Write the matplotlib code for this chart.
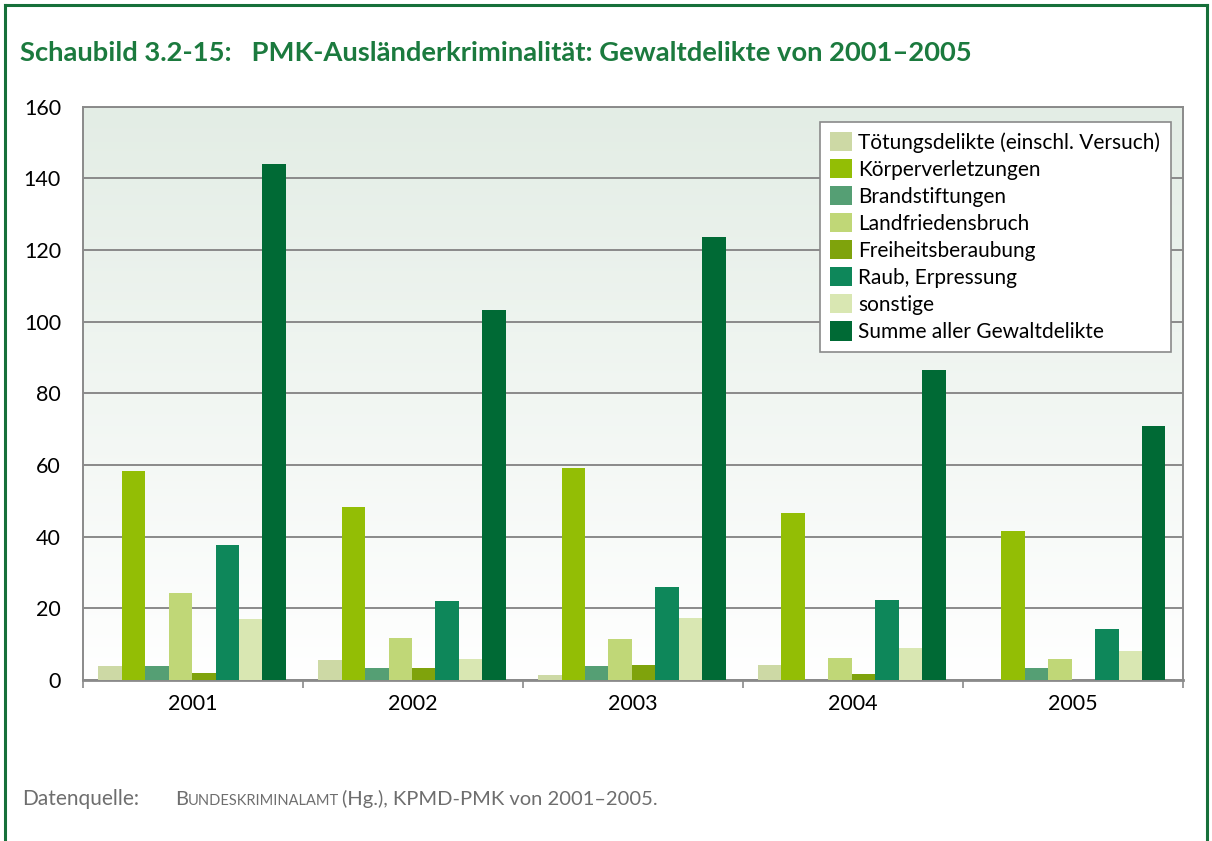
"""PMK-Ausländerkriminalität: Gewaltdelikte 2001-2005 (Schaubild 3.2-15)."""
import matplotlib
matplotlib.use("Agg")
import matplotlib.pyplot as plt
import numpy as np

# Data
YEARS = ["2001", "2002", "2003", "2004", "2005"]
TOETUNG = [3.9, 5.6, 1.4, 4.2, 0.0]
KOERPER = [58.4, 48.3, 59.2, 46.6, 41.6]
BRAND = [3.9, 3.4, 3.9, 0.0, 3.4]
LANDFRIEDEN = [24.3, 11.7, 11.5, 6.1, 5.9]
FREIHEIT = [2.0, 3.4, 4.2, 1.7, 0.0]
RAUB = [37.7, 22.1, 26.0, 22.3, 14.2]
SONSTIGE = [17.0, 5.9, 17.3, 8.9, 8.1]
SUMME = [143.9, 103.4, 123.7, 86.6, 70.9]

SERIES_LABELS = [
    "Tötungsdelikte (einschl. Versuch)",
    "Körperverletzungen",
    "Brandstiftungen",
    "Landfriedensbruch",
    "Freiheitsberaubung",
    "Raub, Erpressung",
    "sonstige",
    "Summe aller Gewaltdelikte",
]
SERIES_COLORS = [
    "#CDD9A5", "#93BE05", "#559F74", "#C0D777",
    "#7FA30C", "#0E875A", "#D9E7B2", "#006A35",
]
Y_TICKS = [0, 20, 40, 60, 80, 100, 120, 140, 160]

FRAME_GREEN = "#16703A"
TITLE_GREEN = "#1B7A3E"
GRID_GREY = "#8A8A8A"
NOTE_GREY = "#6E6E6E"

plt.rcParams["font.family"] = ["Lato", "DejaVu Sans"]


def main() -> None:
    fig = plt.figure(figsize=(12.12, 8.41), dpi=100)

    # outer frame (left, top, right)
    for xs, ys in (([0.0045, 0.0045], [0.0, 0.994]),
                   ([0.0045, 0.996], [0.994, 0.994]),
                   ([0.996, 0.996], [0.0, 0.994])):
        fig.add_artist(plt.Line2D(xs, ys, color=FRAME_GREEN, lw=2.2,
                                  transform=fig.transFigure))

    fig.text(0.0165, 0.937,
             "Schaubild 3.2-15:   PMK-Ausländerkriminalität: Gewaltdelikte von 2001–2005",
             color=TITLE_GREEN, fontsize=19.7, fontweight="bold", va="center", ha="left")

    ax = fig.add_axes([0.0687, 0.1914, 0.9071, 0.6817])

    # background gradient
    grad = np.linspace(1, 0, 256).reshape(-1, 1)
    top = np.array([0.890, 0.929, 0.898])
    bottom = np.array([1.0, 1.0, 1.0])
    img = bottom + (top - bottom) * grad[..., None]
    ax.imshow(img, extent=[0, 1, 0, 1], transform=ax.transAxes,
              aspect="auto", zorder=0)

    series = [TOETUNG, KOERPER, BRAND, LANDFRIEDEN, FREIHEIT, RAUB, SONSTIGE, SUMME]
    n = len(series)
    x = np.arange(len(YEARS))
    width = 0.1066
    for i, (vals, color, label) in enumerate(zip(series, SERIES_COLORS, SERIES_LABELS)):
        offset = (i - (n - 1) / 2) * width
        ax.bar(x + offset - 0.005, vals, width=width, color=color, label=label,
               linewidth=0, zorder=3)

    ax.set_xlim(-0.5, len(YEARS) - 0.5)
    ax.set_ylim(0, 160)
    ax.set_yticks(Y_TICKS)
    ax.set_xticks(x)
    ax.set_xticklabels(YEARS)
    ax.set_xticks(np.arange(len(YEARS) + 1) - 0.5, minor=True)
    ax.tick_params(axis="x", which="major", length=0, pad=10, labelsize=15.5)
    ax.tick_params(axis="x", which="minor", length=6, width=1.2, color=GRID_GREY)
    ax.tick_params(axis="y", length=0, pad=16, labelsize=15.5)
    ax.grid(axis="y", color=GRID_GREY, lw=1.4, zorder=1)

    for spine in ax.spines.values():
        spine.set_color(GRID_GREY)
        spine.set_linewidth(1.4)
    ax.spines["bottom"].set_linewidth(2.0)

    leg = ax.legend(loc="upper right", bbox_to_anchor=(0.989, 0.974),
                    borderaxespad=0, fontsize=15, frameon=True, fancybox=False,
                    handlelength=1.05, handleheight=1.05, handletextpad=0.3,
                    labelspacing=0.3, borderpad=0.5)
    leg.get_frame().set_edgecolor(GRID_GREY)
    leg.get_frame().set_linewidth(1.2)
    leg.get_frame().set_facecolor("white")
    leg.get_frame().set_alpha(1)
    leg.set_zorder(5)

    # source line
    fig.text(0.018, 0.043, "Datenquelle:", color=NOTE_GREY, fontsize=15,
             va="baseline")
    t1 = fig.text(0.1445, 0.043, "B", color=NOTE_GREY, fontsize=14.5,
                  va="baseline")
    t2 = ax.annotate("UNDESKRIMINALAMT", xy=(1, 0), xycoords=t1, color=NOTE_GREY,
                     fontsize=10.5, va="bottom", ha="left", annotation_clip=False)
    ax.annotate("(Hg.), KPMD-PMK von 2001–2005.", xy=(1, 0), xycoords=t2,
                xytext=(2, 0), textcoords="offset points",
                color=NOTE_GREY, fontsize=14.5, va="bottom", ha="left",
                annotation_clip=False)

    fig.savefig("out.png", dpi=100)
    plt.close(fig)


if __name__ == "__main__":
    main()
